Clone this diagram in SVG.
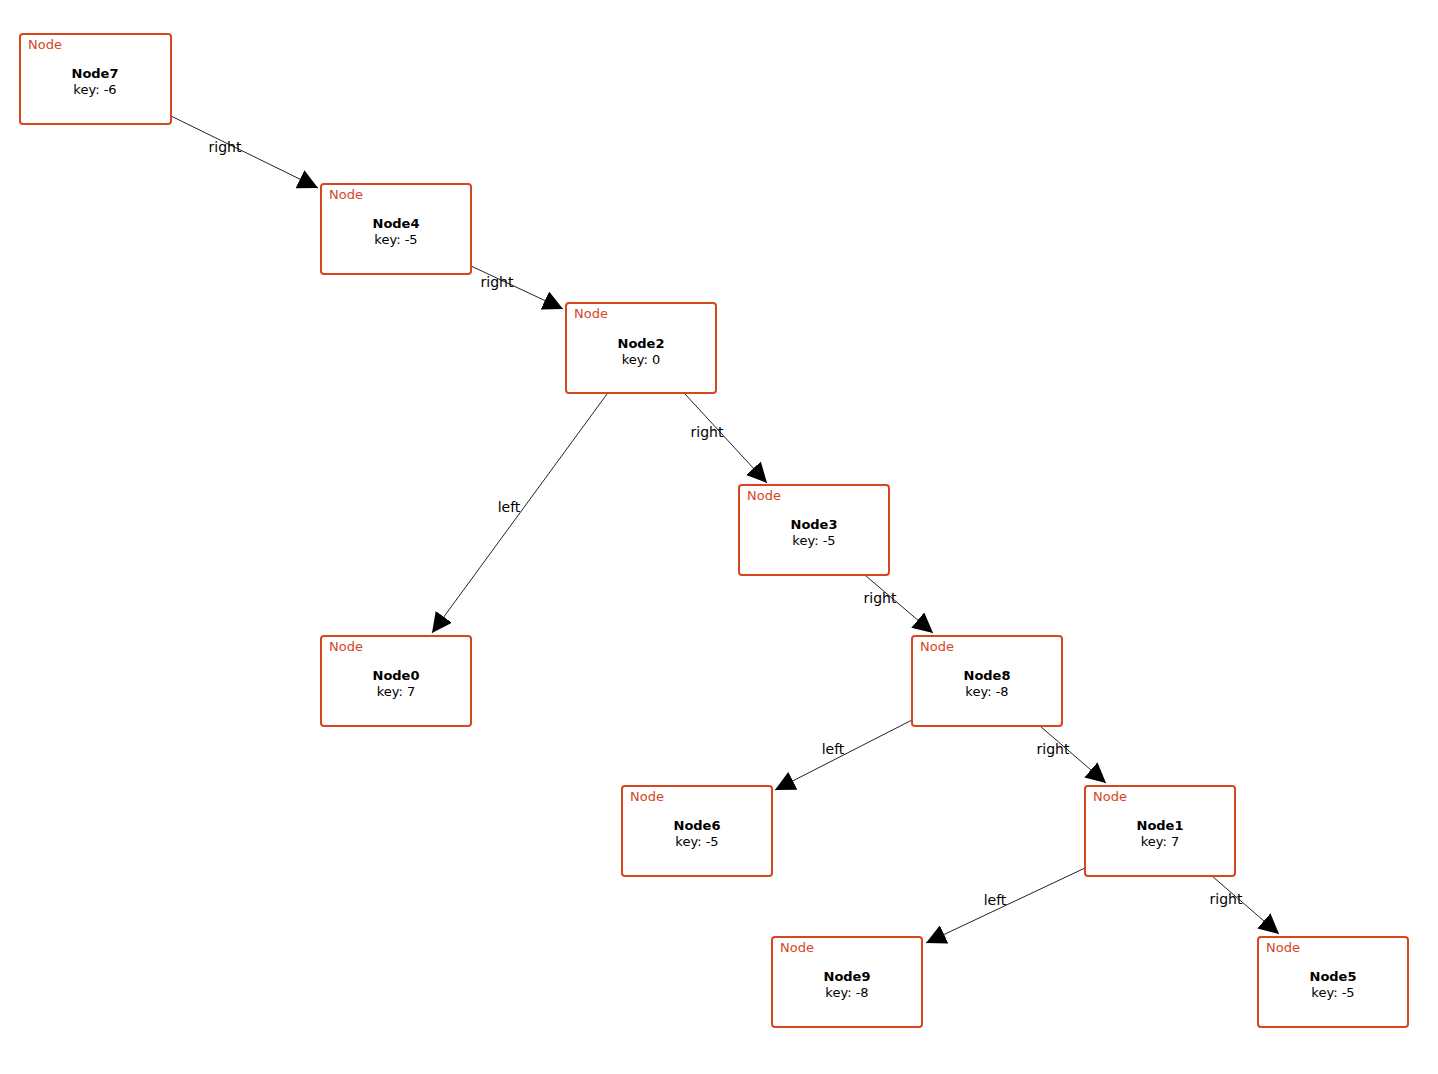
<svg xmlns="http://www.w3.org/2000/svg" width="1438" height="1074" viewBox="0 0 1438 1074">
<style>
.box{fill:#fff;stroke:#d6461f;stroke-width:2}
.t{font-family:"DejaVu Sans",sans-serif;font-size:13px}
.k{fill:#d6461f;font-family:"DejaVu Sans",sans-serif;font-size:13px}
.n{font-weight:bold;text-anchor:middle}
.v{text-anchor:middle}
.e{stroke:#222;stroke-width:1;fill:none;marker-end:url(#a)}
.l{font-family:"DejaVu Sans",sans-serif;font-size:14px;text-anchor:middle}
</style>
<defs><marker id="a" viewBox="0 0 10 10" refX="10" refY="5" markerWidth="20" markerHeight="20" markerUnits="userSpaceOnUse" orient="auto"><path d="M0,0L10,5L0,10z" fill="#000"/></marker></defs>
<rect width="1438" height="1074" fill="#fff"/>
<g id="edges">
<path class="e" d="M171,116L318,188"/>
<path class="e" d="M471,266L563,309"/>
<path class="e" d="M607,394L432,633"/>
<path class="e" d="M685,394L767,483"/>
<path class="e" d="M866,576L933,633"/>
<path class="e" d="M912,720L775,790"/>
<path class="e" d="M1040,726L1106,783"/>
<path class="e" d="M1085,868L926,943"/>
<path class="e" d="M1212,876L1279,934"/>
<text class="l" x="225" y="152">right</text>
<text class="l" x="497" y="287">right</text>
<text class="l" x="707" y="437">right</text>
<text class="l" x="880" y="603">right</text>
<text class="l" x="1053" y="754">right</text>
<text class="l" x="1226" y="904">right</text>
<text class="l" x="509" y="512">left</text>
<text class="l" x="833" y="754">left</text>
<text class="l" x="995" y="905">left</text>
</g>
<g id="Node7"><rect class="box" x="20" y="34" width="151" height="90" rx="3"/><text class="k" x="28" y="49">Node</text><text class="t n" x="95" y="78">Node7</text><text class="t v" x="95" y="94">key: -6</text></g>
<g id="Node4"><rect class="box" x="321" y="184" width="150" height="90" rx="3"/><text class="k" x="329" y="199">Node</text><text class="t n" x="396" y="228">Node4</text><text class="t v" x="396" y="244">key: -5</text></g>
<g id="Node2"><rect class="box" x="566" y="303" width="150" height="90" rx="3"/><text class="k" x="574" y="318">Node</text><text class="t n" x="641" y="348">Node2</text><text class="t v" x="641" y="364">key: 0</text></g>
<g id="Node3"><rect class="box" x="739" y="485" width="150" height="90" rx="3"/><text class="k" x="747" y="500">Node</text><text class="t n" x="814" y="529">Node3</text><text class="t v" x="814" y="545">key: -5</text></g>
<g id="Node0"><rect class="box" x="321" y="636" width="150" height="90" rx="3"/><text class="k" x="329" y="651">Node</text><text class="t n" x="396" y="680">Node0</text><text class="t v" x="396" y="696">key: 7</text></g>
<g id="Node8"><rect class="box" x="912" y="636" width="150" height="90" rx="3"/><text class="k" x="920" y="651">Node</text><text class="t n" x="987" y="680">Node8</text><text class="t v" x="987" y="696">key: -8</text></g>
<g id="Node6"><rect class="box" x="622" y="786" width="150" height="90" rx="3"/><text class="k" x="630" y="801">Node</text><text class="t n" x="697" y="830">Node6</text><text class="t v" x="697" y="846">key: -5</text></g>
<g id="Node1"><rect class="box" x="1085" y="786" width="150" height="90" rx="3"/><text class="k" x="1093" y="801">Node</text><text class="t n" x="1160" y="830">Node1</text><text class="t v" x="1160" y="846">key: 7</text></g>
<g id="Node9"><rect class="box" x="772" y="937" width="150" height="90" rx="3"/><text class="k" x="780" y="952">Node</text><text class="t n" x="847" y="981">Node9</text><text class="t v" x="847" y="997">key: -8</text></g>
<g id="Node5"><rect class="box" x="1258" y="937" width="150" height="90" rx="3"/><text class="k" x="1266" y="952">Node</text><text class="t n" x="1333" y="981">Node5</text><text class="t v" x="1333" y="997">key: -5</text></g>
</svg>
